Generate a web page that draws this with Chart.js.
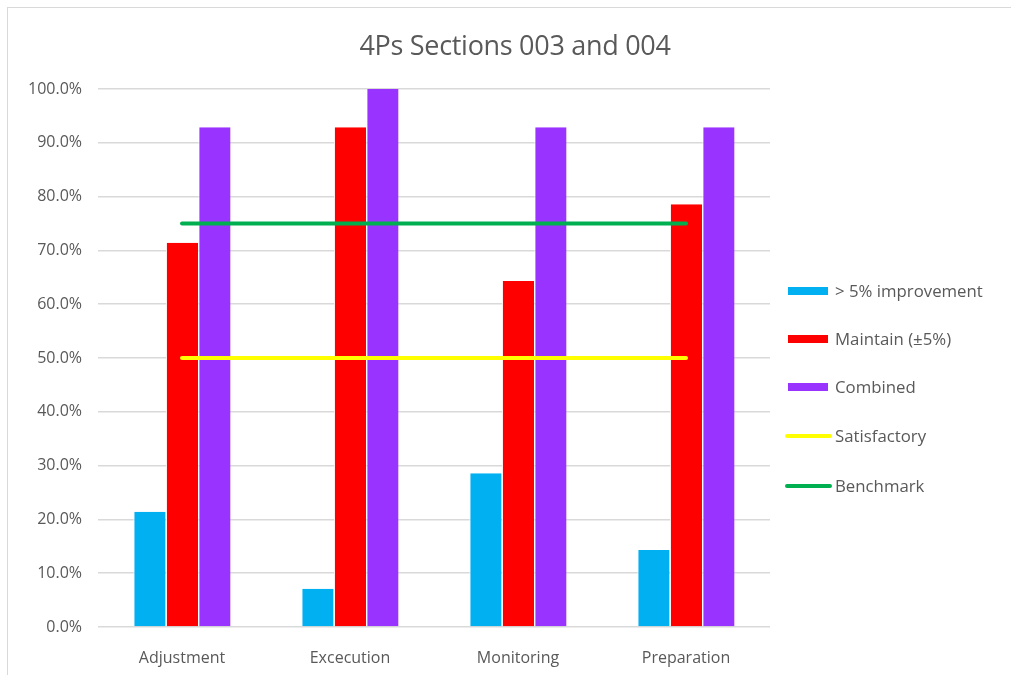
<!DOCTYPE html>
<html>
<head>
<meta charset="utf-8">
<script src="https://cdn.jsdelivr.net/npm/chart.js@4"></script>
<style>
  html, body { margin: 0; padding: 0; background: #fff; }
  #wrap { position: relative; width: 1011px; height: 675px; overflow: hidden; }
  #frame { position: absolute; left: 7px; top: 7px; width: 1100px; height: 700px;
           border-left: 1px solid #d9d9d9; border-top: 1px solid #d9d9d9; }
  #title { position: absolute; left: 265px; width: 500px; top: 26px; text-align: center;
           font-family: "Open Sans", sans-serif; font-size: 27px; color: #595959; letter-spacing: -0.3px; }
  #legend { position: absolute; left: 785px; top: 0; font-family: "Open Sans", sans-serif; font-size: 16.8px; color: #595959; }
  .item { position: absolute; left: 0; white-space: nowrap; height: 20px; line-height: 20px; }
  .sw { position: absolute; left: 3px; top: 6px; width: 40px; height: 8px; }
  .ln { position: absolute; left: 0; top: 8px; width: 47px; height: 4px; border-radius: 2px; }
  .item span.t { position: absolute; left: 50px; }
</style>
</head>
<body>
<div id="wrap">
  <div id="frame"></div>
  <canvas id="c" width="1011" height="675"></canvas>
  <div id="title">4Ps Sections 003 and 004</div>
  <div id="legend"></div>
</div>
<script>
const categories = ["Adjustment", "Excecution", "Monitoring", "Preparation"];
const improvement = [21.4, 7.1, 28.6, 14.3];
const maintain = [71.4, 92.9, 64.3, 78.6];
const combined = [92.9, 100.0, 92.9, 92.9];
const satisfactory = [50, 50, 50, 50];
const benchmark = [75, 75, 75, 75];

const series = [
  { label: "> 5% improvement", data: improvement, color: "#00b0f0", kind: "bar" },
  { label: "Maintain (\u00b15%)", data: maintain, color: "#ff0000", kind: "bar" },
  { label: "Combined", data: combined, color: "#9933ff", kind: "bar" },
  { label: "Satisfactory", data: satisfactory, color: "#ffff00", kind: "line" },
  { label: "Benchmark", data: benchmark, color: "#00b050", kind: "line" },
];

const textCol = "#595959", grid = "#d9d9d9";
const font = { family: "'Open Sans', sans-serif", size: 16 };

new Chart(document.getElementById("c"), {
  data: {
    labels: categories,
    datasets: series.map((s) => s.kind === "bar" ? {
      type: "bar", label: s.label, data: s.data, backgroundColor: s.color,
      borderColor: "#ffffff", borderWidth: { left: 1, right: 0, top: 0, bottom: 0 },
      categoryPercentage: 0.58, barPercentage: 0.99, order: 2,
    } : {
      type: "line", label: s.label, data: s.data, borderColor: s.color, borderWidth: 4,
      borderCapStyle: "round", pointRadius: 0, fill: false, order: 1,
    }),
  },
  options: {
    responsive: false,
    animation: false,
    layout: { padding: { top: 89, right: 241, bottom: 0, left: 0 } },
    plugins: { legend: { display: false }, title: { display: false }, tooltip: { enabled: false } },
    scales: {
      x: {
        grid: { display: false },
        border: { display: false },
        ticks: { color: textCol, font, padding: 14 },
        afterFit: (s) => { s.height = 48; },
      },
      y: {
        min: 0, max: 100,
        ticks: { stepSize: 10, color: textCol, font, padding: 16, callback: (v) => v.toFixed(1) + "%" },
        grid: { color: grid, lineWidth: 1.5, drawTicks: false },
        border: { display: false },
        afterFit: (s) => { s.width = 98; },
      },
    },
  },
});

// legend drawn beside the plot
const legendTops = [291, 339, 387, 436, 486];
document.getElementById("legend").innerHTML = series.map((s, i) => `
  <div class="item" style="top:${legendTops[i] - 10}px">
    <div class="${s.kind === "bar" ? "sw" : "ln"}" style="background:${s.color}"></div>
    <span class="t">${s.label}</span>
  </div>`).join("");
</script>
</body>
</html>
